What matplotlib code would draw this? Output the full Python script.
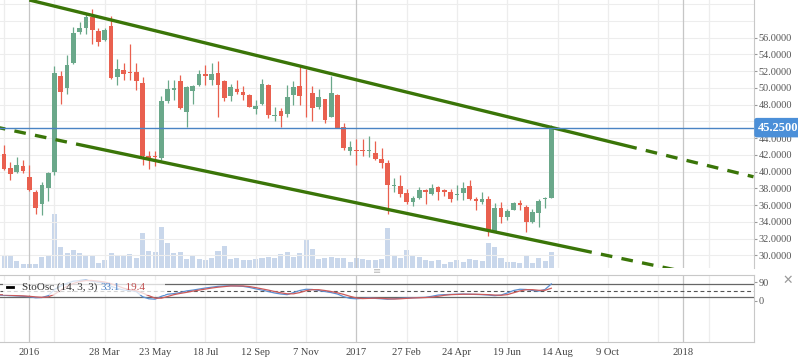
import numpy as np
import pandas as pd
import matplotlib
matplotlib.use("Agg")
import matplotlib.pyplot as plt
import matplotlib.dates as mdates
import matplotlib.transforms as mtransforms
from matplotlib.patches import Rectangle
from matplotlib.lines import Line2D

plt.rcParams['font.family'] = ['Liberation Serif', 'DejaVu Sans']

# weekly candles, first bar is the week of Mon 30 Nov 2015
first_week = "2015-11-30"
opens = [42.6, 42.1, 40.4, 39.9, 40.7, 39.35, 37.55, 36.16, 38.07, 40.0,
         51.42, 50.02, 53.0, 56.7, 57.2, 58.47, 56.8, 55.72, 57.39, 51.34,
         52.1, 51.85, 51.9, 50.58, 41.9, 41.9, 41.66, 48.47, 49.7, 50.8,
         47.16, 49.62, 50.38, 51.65, 50.98, 51.78, 50.82, 49.03, 49.86, 49.5,
         49.15, 47.51, 48.03, 50.34, 46.6, 47.2, 46.88, 49.15, 50.22, 49.8,
         49.39, 47.71, 48.67, 46.56, 49.15, 45.28, 42.45, 42.6, 42.5, 42.42,
         42.2, 41.5, 41.02, 38.25, 38.27, 37.4, 36.4, 36.84, 37.79, 37.31,
         38.15, 37.75, 37.55, 37.15, 37.5, 38.27, 36.7, 36.4, 36.7, 32.9,
         35.64, 34.6, 35.4, 36.24, 35.76, 34.0, 35.1, 36.7, 36.88]
highs = [43.0, 43.2, 41.2, 41.7, 41.4, 40.8, 37.8, 38.75, 39.98, 52.6,
         52.0, 53.9, 57.3, 57.9, 58.8, 59.4, 57.2, 57.1, 58.6, 53.4,
         53.0, 55.3, 53.0, 51.3, 42.4, 42.4, 49.0, 50.9, 50.9, 51.5,
         50.22, 50.35, 52.1, 52.7, 53.0, 53.2, 50.95, 50.46, 50.9, 50.2,
         49.27, 48.55, 51.1, 50.42, 47.7, 47.56, 50.3, 50.8, 52.7, 52.3,
         50.22, 49.86, 48.71, 51.4, 49.23, 45.8, 43.6, 43.9, 43.9, 44.3,
         43.65, 42.8, 41.4, 39.2, 39.6, 37.91, 37.08, 38.19, 37.95, 38.51,
         38.27, 37.95, 37.91, 38.4, 38.75, 39.0, 36.92, 37.55, 37.08, 36.2,
         36.35, 35.52, 36.36, 36.55, 36.0, 35.48, 36.7, 37.0, 45.6]
lows = [42.2, 40.2, 39.0, 39.8, 39.8, 37.7, 34.96, 34.85, 36.5, 39.6,
        48.1, 49.3, 52.8, 56.4, 56.4, 55.2, 55.0, 55.56, 51.1, 50.4,
        50.9, 50.9, 49.7, 40.8, 40.3, 40.7, 41.34, 48.23, 48.55, 47.43,
        45.3, 48.07, 50.2, 50.3, 50.35, 46.55, 48.39, 48.43, 49.27, 48.55,
        47.7, 46.9, 47.9, 46.4, 46.1, 45.3, 46.55, 48.0, 47.95, 46.55,
        46.1, 47.51, 45.84, 46.48, 45.2, 42.6, 42.0, 40.8, 41.9, 41.7,
        41.38, 40.4, 34.96, 37.51, 36.99, 36.12, 35.9, 36.68, 36.12, 37.19,
        36.6, 37.04, 36.4, 36.56, 36.56, 36.56, 35.4, 36.08, 32.3, 32.9,
        33.89, 34.2, 35.4, 35.4, 32.8, 33.9, 33.4, 35.7, 36.8]
closes = [42.5, 40.3, 39.7, 40.8, 40.1, 37.8, 35.6, 38.35, 39.86, 51.74,
          49.55, 52.73, 56.56, 57.16, 58.47, 56.96, 55.52, 56.92, 51.22, 52.25,
          51.6, 51.75, 50.82, 41.9, 41.5, 41.8, 48.43, 49.86, 50.0, 47.6,
          50.14, 50.26, 51.66, 51.4, 51.66, 50.38, 48.83, 50.06, 49.5, 49.1,
          47.75, 47.83, 50.46, 46.76, 46.75, 46.64, 48.87, 50.06, 49.07, 49.7,
          47.63, 48.87, 46.2, 49.39, 45.24, 42.85, 42.9, 42.45, 42.42, 42.5,
          41.5, 41.05, 38.43, 38.35, 37.31, 36.4, 36.84, 37.75, 37.59, 37.99,
          37.59, 37.6, 36.75, 37.35, 38.07, 36.76, 36.45, 36.7, 33.01, 35.64,
          34.6, 35.32, 36.24, 36.0, 33.97, 35.16, 36.48, 36.8, 45.25]
volume_k = [43, 37, 37, 20, 11, 11, 11, 32, 37, 161,
            62, 44, 53, 44, 35, 38, 14, 23, 44, 38,
            35, 41, 29, 104, 50, 47, 122, 74, 44, 47,
            26, 35, 26, 23, 30, 50, 65, 26, 30, 23,
            23, 26, 30, 33, 30, 42, 48, 33, 45, 84,
            57, 26, 31, 33, 30, 30, 18, 30, 27, 24,
            24, 27, 120, 39, 30, 54, 36, 33, 23, 20,
            23, 12, 18, 23, 18, 27, 24, 21, 75, 63,
            30, 18, 18, 15, 35, 14, 29, 20, 47]
sto_k = [28, 27, 25, 24, 22, 20, 15, 16, 25, 55,
         72, 85, 95, 98, 100, 95, 90, 88, 70, 60,
         52, 50, 45, 20, 10, 8, 22, 32, 35, 40,
         48, 52, 57, 62, 66, 70, 72, 73, 72, 70,
         65, 58, 52, 45, 38, 33, 30, 40, 50, 56,
         55, 50, 45, 40, 33, 20, 12, 10, 12, 14,
         12, 10, 8, 10, 12, 14, 15, 16, 17, 22,
         28, 30, 31, 32, 33, 32, 31, 30, 28, 25,
         28, 38, 50, 56, 55, 50, 47, 55, 82]
sto_d = [30, 29, 27, 25, 24, 22, 19, 17, 19, 32,
         51, 71, 84, 93, 98, 98, 95, 91, 83, 73,
         61, 54, 49, 38, 25, 13, 13, 21, 30, 36,
         41, 47, 52, 57, 62, 66, 69, 72, 72, 72,
         69, 64, 58, 52, 45, 39, 34, 34, 40, 49,
         54, 54, 50, 45, 39, 31, 22, 14, 11, 12,
         13, 12, 10, 9, 10, 12, 14, 15, 16, 18,
         22, 27, 30, 31, 32, 32, 32, 31, 30, 28,
         27, 30, 39, 48, 54, 54, 51, 51, 61]
last_price = 45.25

# trend channel drawn on the chart
upper_solid = (["2016-01-04", "2017-11-10"], [60.5, 42.79])
upper_ext = (["2017-11-10", "2018-03-20"], [42.79, 39.38])
lower_left = (["2016-02-25", "2015-12-01"], [43.3, 45.25])
lower_solid = (["2016-02-25", "2017-09-21"], [43.3, 30.36])
lower_ext = (["2017-09-21", "2018-03-20"], [30.36, 26.3])

price_ticks = [30, 32, 34, 36, 38, 40, 42, 44, 46, 48, 50, 52, 54, 56]
price_grid = price_ticks + [58, 60]
date_ticks = ["2016-01-04", "2016-03-28", "2016-05-23", "2016-07-18", "2016-09-12",
              "2016-11-07", "2017-01-02", "2017-02-27", "2017-04-24", "2017-06-19",
              "2017-08-14", "2017-10-09", "2018-01-01"]
date_labels = ["2016", "28 Mar", "23 May", "18 Jul", "12 Sep", "7 Nov", "2017",
               "27 Feb", "24 Apr", "19 Jun", "14 Aug", "9 Oct", "2018"]
extra_grid = ["2015-12-07", "2016-02-01", "2017-12-04", "2018-01-29"]
year_lines = ["2016-01-04", "2017-01-02", "2018-01-01"]

up_col, dn_col = "#6aa88a", "#e9604f"
chan_col = "#3a7508"
W, H = 798, 363

weeks = mdates.date2num(pd.date_range(first_week, periods=len(closes), freq="7D"))
o, h, l, c = map(np.array, (opens, highs, lows, closes))
cols = np.where(c >= o, up_col, dn_col)

fig = plt.figure(figsize=(W / 100, H / 100), dpi=100)
ax = fig.add_axes([0, (H - 268) / H, 754 / W, 268 / H])
axv = ax.twinx()
axo = fig.add_axes([0, 21 / H, 754 / W, 67 / H], sharex=ax)

ax.set_zorder(axv.get_zorder() + 1)
ax.patch.set_visible(False)

# volume
axv.bar(weeks, volume_k, width=5.6, color="#c9d7eb", zorder=1)
axv.set_ylim(0, max(volume_k) * 5)
axv.set_yticks([])
for s in axv.spines.values():
    s.set_visible(False)

# grid
for p in price_grid:
    ax.axhline(p, color="#ededed", lw=0.8, zorder=0)
for d in date_ticks + extra_grid:
    dn = mdates.date2num(pd.Timestamp(d))
    gc = "#c6c6c6" if d in year_lines else "#ededed"
    ax.axvline(dn, color=gc, lw=0.9, zorder=0)
    axo.axvline(dn, color=gc, lw=0.9, zorder=0)

# candles
ax.vlines(weeks, l, h, color=cols, lw=0.9, zorder=2)
ax.bar(weeks, np.maximum(np.abs(c - o), 0.1), bottom=np.minimum(o, c),
       width=5.2, color=cols, zorder=3)

# channel
dash = (3.5, 2.8)
def chan(seg, ls, **kw):
    ax.plot(mdates.date2num(pd.to_datetime(seg[0])), seg[1], color=chan_col,
            lw=2.4, ls=ls, solid_capstyle="butt", dash_capstyle="butt", zorder=5, **kw)
chan(upper_solid, "-")
chan(upper_ext, (dash[0], dash))
chan(lower_left, (dash[0], dash))
chan(lower_solid, "-")
chan(lower_ext, (dash[0], dash))

# last price line + label
ax.axhline(last_price, color="#4a84c4", lw=1.0, zorder=6)
trans = mtransforms.blended_transform_factory(ax.transAxes, ax.transData)
ax.text(1.0 + 4 / 754, last_price, f"{last_price:.4f}", transform=trans, ha="left",
        va="center", color="white", fontsize=9, fontweight="bold", zorder=10,
        clip_on=False,
        bbox=dict(boxstyle="round,pad=0.3,rounding_size=0.2", fc="#4b8fd8", ec="none"))

ax.set_xlim(pd.Timestamp("2015-12-02 09:00"), pd.Timestamp("2018-03-20 14:00"))
ax.set_ylim(28.48, 60.5)
ax.yaxis.tick_right()
ax.set_yticks(price_ticks)
ax.set_yticklabels([f"{p:.4f}" for p in price_ticks])
ax.tick_params(axis="y", length=2.4, width=0.8, color="#999999", pad=0.8,
               labelsize=7.4, labelcolor="#555555")
ax.tick_params(axis="x", bottom=False, labelbottom=False)
for k in ("top", "left", "bottom"):
    ax.spines[k].set_visible(False)
ax.spines["right"].set_color("#c8c8c8")

# stochastic oscillator panel
axo.plot(weeks, sto_k, color="#5a8fd2", lw=0.9, zorder=3)
axo.plot(weeks, sto_d, color="#cc5a5a", lw=0.9, zorder=3)
axo.axhline(80, color="#666666", lw=0.9, zorder=2)
axo.axhline(20, color="#666666", lw=0.9, zorder=2)
axo.axhline(50, color="#555555", lw=0.8, ls=(0, (3.5, 2.5)), zorder=2)
axo.set_ylim(-199, 125)
axo.yaxis.tick_right()
axo.set_yticks([0, 90])
axo.tick_params(axis="y", length=2.4, width=0.8, color="#999999", pad=0.8,
                labelsize=7.4, labelcolor="#555555")
axo.set_xticks(mdates.date2num(pd.to_datetime(date_ticks)))
axo.set_xticklabels(date_labels)
axo.tick_params(axis="x", length=0, pad=4.6, labelsize=7.6, labelcolor="#444444")
axo.spines["left"].set_visible(False)
for k in ("top", "bottom", "right"):
    axo.spines[k].set_color("#c8c8c8")

# legend box
axo.add_patch(Rectangle((3 / 754, (342 - 295) / 67), 162 / 754, 15 / 67,
                        transform=axo.transAxes, fc="white", ec="none", alpha=0.75, zorder=4))
axo.add_line(Line2D([7 / 754, 13 / 754], [(342 - 286.5) / 67] * 2, transform=axo.transAxes,
                    color="black", lw=2, zorder=5))
t1 = axo.text(22 / 754, (342 - 287) / 67, "StoOsc (14, 3, 3) ", transform=axo.transAxes,
              fontsize=8, color="#333333", va="center", ha="left", zorder=6)
t2 = axo.annotate("33.1", xy=(1, 0.5), xycoords=t1, va="center", ha="left",
                  fontsize=8, color="#4a7fc4", zorder=6)
t3 = axo.annotate("  19.4", xy=(1, 0.5), xycoords=t2, va="center", ha="left",
                  fontsize=8, color="#c05050", zorder=6)

fig.text(788 / W, 1 - 280 / H, "\u2715", fontsize=9, color="#999999", ha="center",
         va="center", family="DejaVu Sans")
fig.text(377 / W, 1 - 271 / H, "\u2261", fontsize=7, color="#bbbbbb", ha="center",
         va="center", family="DejaVu Sans")

fig.savefig("out.png", dpi=100)
